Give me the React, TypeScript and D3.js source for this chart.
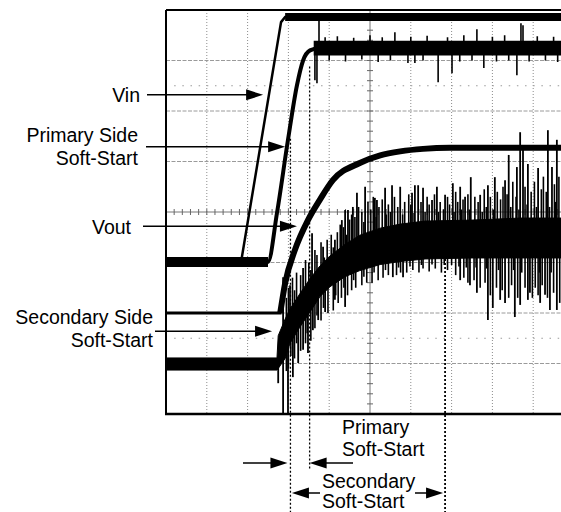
import * as d3 from 'd3'

// horizontal axis: scope time divisions, vertical axis: screen divisions
const timeDivs = [0, 10]
const levelDivs = [0, 8]
const gridTimes = [1, 2, 3, 4, 6, 7, 8, 9]
const gridLevels = [1, 2, 3, 5, 6, 7]
const centerTime = 5
const centerLevel = 4
const dotLevels = [6.5, 1.5]

// [t, v] center lines
const vinTrace: [number, number][] = [[0, 3.01], [1.84, 3.01], [2.82, 7.76], [2.92, 7.86], [10, 7.86]]
const primaryTrace: [number, number][] = [
  [0, 3.01], [2.5, 3.01], [2.72, 3.98], [2.99, 5.43], [3.21, 6.51], [3.36, 7.0], [3.53, 7.2], [3.77, 7.25], [10, 7.25]
]
const voutTrace: [number, number][] = [
  [0, 2.0], [2.8, 2.0], [2.92, 2.59], [3.16, 3.25], [3.48, 3.84], [3.77, 4.24], [4.09, 4.63],
  [4.75, 4.97], [5.25, 5.12], [5.74, 5.2], [6.3, 5.25], [6.96, 5.27], [10, 5.27]
]

// [t, hi, lo] noise envelopes
const baseBand: [number, number, number][] = [[0, 3.11, 2.91], [2.5, 3.11, 2.91]]
const vinTopBand: [number, number, number][] = [[2.92, 7.94, 7.78], [10, 7.94, 7.78]]
const primaryTopBand: [number, number, number][] = [[3.62, 7.39, 7.1], [10, 7.39, 7.1]]
const secondaryBand: [number, number, number][] = [
  [0, 1.11, 0.87], [2.72, 1.11, 0.87], [2.75, 1.55, 0.9], [2.92, 1.88, 1.1], [3.04, 2.08, 1.4],
  [3.28, 2.38, 1.72], [3.53, 2.68, 2.02], [3.77, 2.93, 2.32], [4.02, 3.13, 2.52], [4.39, 3.36, 2.72],
  [4.75, 3.54, 2.84], [5.25, 3.68, 2.96], [5.74, 3.76, 3.02], [6.35, 3.82, 3.07], [7.5, 3.84, 3.09],
  [8.68, 3.88, 3.09], [10, 3.88, 3.09]
]

// [t, tip] spikes
const primaryUp: [number, number][] = [
  [3.75, 7.8], [3.9, 7.46], [4.2, 7.48], [4.6, 7.45], [5.0, 7.5], [5.3, 7.46], [5.61, 7.56], [6.0, 7.47],
  [6.4, 7.49], [6.9, 7.46], [7.3, 7.5], [7.62, 7.62], [8.0, 7.47], [8.3, 7.5], [8.7, 7.74], [8.75, 7.7],
  [9.1, 7.48], [9.5, 7.47]
]
const primaryDown: [number, number][] = [
  [3.65, 6.61], [3.7, 6.55], [4.0, 7.0], [4.4, 6.98], [4.8, 7.02], [5.2, 6.97], [5.5, 7.0], [5.93, 6.95],
  [6.1, 6.95], [6.3, 7.0], [6.67, 6.57], [7.01, 6.75], [7.2, 6.98], [7.5, 7.0], [7.79, 6.85], [8.1, 6.98],
  [8.4, 7.0], [8.6, 6.71], [8.9, 6.98], [9.3, 7.0], [9.6, 6.97]
]
const secondaryUp: [number, number][] = [
  [2.87, 2.71], [3.04, 2.55], [3.36, 2.89], [3.58, 3.58], [3.85, 3.31], [4.14, 3.45], [4.31, 3.84],
  [4.39, 4.04], [4.46, 4.04], [4.58, 4.1], [4.68, 4.38], [4.88, 4.5], [5.12, 4.28], [5.17, 4.24],
  [5.37, 4.48], [5.54, 4.53], [5.74, 4.5], [6.03, 4.38], [6.1, 4.53], [6.18, 4.53], [6.3, 4.48],
  [6.52, 4.24], [6.64, 4.5], [6.84, 4.34], [7.03, 4.57], [7.21, 4.5], [7.33, 4.3], [7.47, 4.69],
  [7.7, 4.34], [7.89, 4.53], [8.06, 4.69], [8.31, 4.63], [8.4, 5.13], [8.6, 4.89], [8.68, 5.58],
  [8.75, 5.23], [8.87, 4.95], [9.12, 4.87], [9.36, 5.62], [9.46, 4.89], [9.58, 5.43]
]
const secondaryUpFine: [number, number][] = [
  [2.95, 2.3], [3.0, 2.5], [3.1, 2.7], [3.15, 2.45], [3.2, 2.8], [3.3, 2.75], [3.42, 3.05], [3.5, 3.0],
  [3.55, 2.85], [3.65, 3.25], [3.7, 3.15], [3.8, 3.4], [3.88, 3.1], [3.95, 3.45], [4.05, 3.55], [4.1, 3.3],
  [4.2, 3.6], [4.27, 3.75], [4.35, 3.7], [4.42, 3.55], [4.5, 3.85], [4.55, 3.95], [4.63, 3.9], [4.72, 4.1],
  [4.8, 4.0], [4.85, 3.8], [4.95, 4.2], [5.02, 4.05], [5.08, 4.3], [5.15, 3.9], [5.22, 4.1], [5.3, 4.25],
  [5.4, 3.95], [5.45, 4.15], [5.5, 4.0], [5.6, 4.3], [5.68, 4.1], [5.8, 3.95], [5.85, 4.2], [5.95, 4.35],
  [6.0, 4.15], [6.08, 3.98], [6.25, 4.2], [6.35, 4.0], [6.4, 4.3], [6.45, 4.15], [6.58, 4.35], [6.68, 4.0],
  [6.72, 4.2], [6.8, 4.05], [6.9, 4.3], [6.95, 4.15], [7.06, 4.0], [7.1, 4.4], [7.15, 4.2], [7.24, 4.05],
  [7.28, 4.25], [7.4, 4.35], [7.44, 4.05], [7.57, 4.3], [7.65, 4.2], [7.75, 4.0], [7.8, 4.45], [7.85, 4.1],
  [7.95, 4.3], [8.02, 4.05], [8.12, 4.4], [8.2, 4.25], [8.26, 4.5], [8.36, 4.35], [8.45, 4.1], [8.5, 4.6],
  [8.58, 4.3], [8.65, 4.05], [8.8, 4.5], [8.85, 4.15], [8.95, 4.4], [9.03, 4.6], [9.08, 4.1], [9.2, 4.45],
  [9.25, 4.7], [9.32, 4.4], [9.4, 4.1], [9.52, 4.55], [9.55, 4.2], [9.63, 4.7]
]
const secondaryDown: [number, number][] = [
  [2.75, 0.61], [2.87, 0.02], [2.99, 0.02], [3.11, 0.73], [3.24, 1.01], [3.36, 1.27], [3.48, 1.21],
  [3.6, 1.66], [3.73, 1.86], [3.9, 2.02], [4.14, 2.26], [4.39, 2.12], [5.56, 2.71], [5.81, 2.71],
  [7.21, 2.65], [7.45, 2.55], [7.62, 2.4], [7.89, 1.86], [8.01, 2.1], [8.19, 2.26], [8.31, 2.2],
  [8.55, 1.92], [8.68, 2.16], [8.87, 2.26], [8.92, 2.4], [9.17, 2.2], [9.29, 2.36], [9.41, 2.06], [9.58, 2.06]
]
const secondaryDownFine: [number, number][] = [
  [2.95, 0.85], [3.0, 0.9], [3.06, 1.15], [3.15, 1.1], [3.2, 1.4], [3.3, 1.25], [3.42, 1.4], [3.46, 1.6],
  [3.55, 1.45], [3.65, 1.7], [3.7, 1.95], [3.8, 1.85], [3.86, 2.1], [3.97, 2.0], [4.1, 2.05], [4.16, 2.35],
  [4.22, 2.2], [4.3, 2.3], [4.36, 2.5], [4.45, 2.35], [4.55, 2.45], [4.6, 2.65], [4.65, 2.5], [4.8, 2.55],
  [4.85, 2.72], [4.92, 2.6], [5.05, 2.6], [5.1, 2.8], [5.2, 2.65], [5.32, 2.7], [5.38, 2.85], [5.45, 2.75],
  [5.65, 2.75], [5.7, 2.9], [5.75, 2.8], [5.9, 2.8], [5.98, 2.92], [6.05, 2.85], [6.2, 2.8], [6.26, 2.95],
  [6.3, 2.88], [6.45, 2.82], [6.52, 2.96], [6.6, 2.88], [6.75, 2.8], [6.82, 2.95], [6.9, 2.85], [7.0, 2.95],
  [7.1, 2.75], [7.18, 2.92], [7.3, 2.7], [7.36, 2.9], [7.4, 2.6], [7.55, 2.65], [7.6, 2.9], [7.7, 2.5],
  [7.82, 2.6], [7.86, 2.88], [7.95, 2.35], [8.1, 2.5], [8.15, 2.85], [8.24, 2.45], [8.4, 2.3], [8.47, 2.55],
  [8.52, 2.85], [8.62, 2.3], [8.72, 2.8], [8.8, 2.5], [8.98, 2.3], [9.05, 2.5], [9.12, 2.35], [9.15, 2.8],
  [9.22, 2.55], [9.35, 2.3], [9.44, 2.8], [9.5, 2.4], [9.65, 2.2]
]

// cursor lines [t, top v, bottom px]
const cursors: [number, number, number][] = [[3.05, 5.45, 512], [3.52, 6.88, 470], [6.84, 3.15, 512]]

const labels = [
  { lines: ['Vin'], right: 140, base: 102, from: 147, tip: [2.38, 6.32] },
  { lines: ['Primary Side', 'Soft-Start'], right: 138, base: 142, from: 146, tip: [2.92, 5.29] },
  { lines: ['Vout'], right: 131, base: 234, from: 143, tip: [3.21, 3.72] },
  { lines: ['Secondary Side', 'Soft-Start'], right: 153, base: 324, from: 155, tip: [2.6, 1.64] }
]

const W = 561
const H = 512
const frame = { left: 166, top: 10, right: 574, bottom: 414 }
const font = "'Liberation Sans', Arial, sans-serif"

export default function App() {
  const x = d3.scaleLinear().domain(timeDivs).range([frame.left, frame.right])
  const y = d3.scaleLinear().domain(levelDivs).range([frame.bottom, frame.top])
  const line = d3.line<[number, number]>().x(d => x(d[0])).y(d => y(d[1]))
  const smooth = d3.line<[number, number]>().x(d => x(d[0])).y(d => y(d[1])).curve(d3.curveMonotoneX)
  const area = d3.area<[number, number, number]>().x(d => x(d[0])).y0(d => y(d[2])).y1(d => y(d[1]))

  const bandAt = (band: [number, number, number][], t: number) => {
    const i = Math.max(1, d3.bisector((d: [number, number, number]) => d[0]).left(band, t))
    const a = band[i - 1], b = band[Math.min(i, band.length - 1)]
    const k = b[0] === a[0] ? 0 : (t - a[0]) / (b[0] - a[0])
    return [a[1] + (b[1] - a[1]) * k, a[2] + (b[2] - a[2]) * k]
  }

  const minorStep = x(0.2) - x(0)
  const minorTimes = d3.range(0.2, 10, 0.2)
  const minorLevels = d3.range(0.2, 8, 0.2)

  const head = (tx: number, ty: number, dir: number) =>
    `M${tx},${ty}L${tx - dir * 17},${ty - 5.5}L${tx - dir * 17},${ty + 5.5}Z`

  const spikes = (key: string, data: [number, number][], band: [number, number, number][], up: boolean, w: number) =>
    data.map(([t, v], i) => {
      const [hi, lo] = bandAt(band, t)
      return (
        <line key={key + i} x1={x(t)} x2={x(t)} y1={y(v)} y2={up ? y(hi) + 2 : y(lo) - 2}
          stroke="#000" strokeWidth={w} />
      )
    })

  return (
    <div style={{ position: 'absolute', left: 0, top: 0 }}>
      <svg width={W} height={H} style={{ display: 'block', background: '#fff' }}>
        <defs>
          <clipPath id="plot">
            <rect x={frame.left} y={frame.top} width={frame.right - frame.left} height={frame.bottom - frame.top} />
          </clipPath>
        </defs>

        {/* grid */}
        {gridTimes.map(t => (
          <line key={'gt' + t} x1={x(t)} x2={x(t)} y1={frame.top} y2={frame.bottom}
            stroke="#8c8c8c" strokeWidth={1} strokeDasharray="1,2" />
        ))}
        {gridLevels.map(v => (
          <line key={'gl' + v} x1={frame.left} x2={frame.right} y1={y(v)} y2={y(v)}
            stroke="#9a9a9a" strokeWidth={1} strokeDasharray="4,1.5" />
        ))}
        {dotLevels.map(v => (
          <line key={'dl' + v} x1={frame.left + minorStep} x2={frame.right} y1={y(v)} y2={y(v)}
            stroke="#9a9a9a" strokeWidth={1.2} strokeDasharray={`1.5,${minorStep - 1.5}`} />
        ))}
        <line x1={x(centerTime)} x2={x(centerTime)} y1={frame.top} y2={frame.bottom} stroke="#777" strokeWidth={1} />
        <line x1={frame.left} x2={frame.right} y1={y(centerLevel)} y2={y(centerLevel)} stroke="#777" strokeWidth={1} />
        {minorTimes.map(t => (
          <line key={'mt' + t} x1={x(t)} x2={x(t)} y1={y(centerLevel) - 3} y2={y(centerLevel) + 3} stroke="#666" strokeWidth={1} />
        ))}
        {minorLevels.map(v => (
          <line key={'mv' + v} x1={x(centerTime) - 3} x2={x(centerTime) + 3} y1={y(v)} y2={y(v)} stroke="#666" strokeWidth={1} />
        ))}

        {/* cursors */}
        {cursors.map(([t, v, b], i) => (
          <line key={'c' + i} x1={x(t)} x2={x(t)} y1={y(v)} y2={b}
            stroke="#000" strokeWidth={i === 2 ? 1.8 : 1.3} strokeDasharray="2,2" />
        ))}

        <g clipPath="url(#plot)">
          {/* secondary side soft-start */}
          <path d={area(secondaryBand) ?? ''} fill="#000" stroke="#000" strokeWidth={1} />
          {spikes('suf', secondaryUpFine, secondaryBand, true, 1.6)}
          {spikes('sdf', secondaryDownFine, secondaryBand, false, 1.6)}
          {spikes('su', secondaryUp, secondaryBand, true, 1.8)}
          {spikes('sd', secondaryDown, secondaryBand, false, 1.8)}

          {/* Vout */}
          <path d={line(voutTrace.slice(0, 3)) ?? ''} fill="none" stroke="#000" strokeWidth={3} />
          <path d={smooth(voutTrace.slice(1)) ?? ''} fill="none" stroke="#000" strokeWidth={6} />

          {/* shared baseline */}
          <path d={area(baseBand) ?? ''} fill="#000" />

          {/* primary side soft-start */}
          <path d={smooth(primaryTrace) ?? ''} fill="none" stroke="#000" strokeWidth={4} />
          <path d={area(primaryTopBand) ?? ''} fill="#000" />
          {spikes('pu', primaryUp, primaryTopBand, true, 1.6)}
          {spikes('pd', primaryDown, primaryTopBand, false, 1.6)}

          {/* Vin */}
          <path d={line(vinTrace) ?? ''} fill="none" stroke="#000" strokeWidth={2.5} />
          <path d={area(vinTopBand) ?? ''} fill="#000" />
        </g>

        {/* frame */}
        <line x1={frame.left} x2={frame.left} y1={frame.top} y2={frame.bottom + 1} stroke="#000" strokeWidth={2} />
        <line x1={frame.left} x2={W} y1={frame.top} y2={frame.top} stroke="#000" strokeWidth={2} />
        <line x1={frame.left - 1} x2={W} y1={frame.bottom} y2={frame.bottom} stroke="#000" strokeWidth={2.5} />

        {/* side labels */}
        {labels.map((l, i) => {
          const ty = y(l.tip[1])
          const tx = x(l.tip[0])
          return (
            <g key={'lab' + i}>
              {l.lines.map((s, j) => (
                <text key={j} x={l.right} y={l.base + j * 23} textAnchor="end"
                  fontFamily={font} fontSize={19.5} fill="#000">{s}</text>
              ))}
              <line x1={l.from} x2={tx - 10} y1={ty} y2={ty} stroke="#000" strokeWidth={1.5} />
              <path d={head(tx, ty, 1)} fill="#000" />
            </g>
          )
        })}

        {/* soft-start intervals */}
        <text x={342} y={434} fontFamily={font} fontSize={19.5} fill="#000">Primary</text>
        <text x={342} y={456} fontFamily={font} fontSize={19.5} fill="#000">Soft-Start</text>
        <line x1={243} x2={x(cursors[0][0]) - 10} y1={463} y2={463} stroke="#000" strokeWidth={1.5} />
        <path d={head(x(cursors[0][0]) - 3, 463, 1)} fill="#000" />
        <line x1={x(cursors[1][0]) + 10} x2={353} y1={463} y2={463} stroke="#000" strokeWidth={1.5} />
        <path d={head(x(cursors[1][0]), 463, -1)} fill="#000" />

        <text x={322} y={488} fontFamily={font} fontSize={19.5} fill="#000">Secondary</text>
        <text x={322} y={508} fontFamily={font} fontSize={19.5} fill="#000">Soft-Start</text>
        <line x1={x(cursors[0][0]) + 10} x2={320} y1={493} y2={493} stroke="#000" strokeWidth={1.5} />
        <path d={head(x(cursors[0][0]) + 1.5, 493, -1)} fill="#000" />
        <line x1={415} x2={x(cursors[2][0]) - 10} y1={493} y2={493} stroke="#000" strokeWidth={1.5} />
        <path d={head(x(cursors[2][0]) - 2, 493, 1)} fill="#000" />
      </svg>
    </div>
  )
}
